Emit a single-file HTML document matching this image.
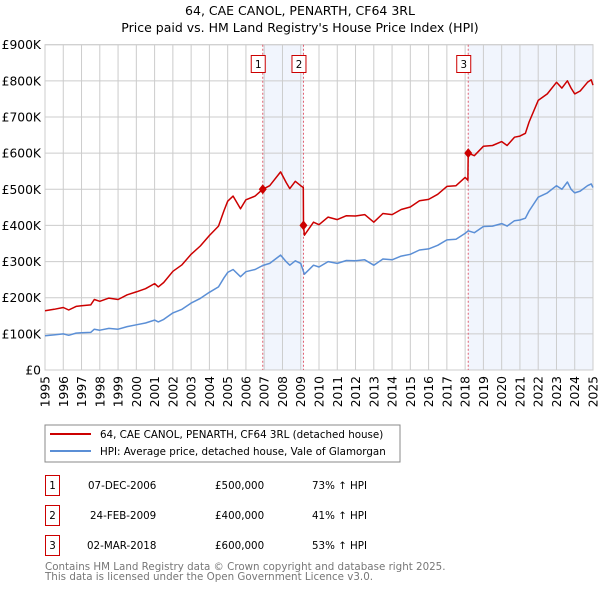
<!DOCTYPE html>
<html><head><meta charset="utf-8"><style>
body{margin:0;background:#fff;font-family:"DejaVu Sans","Liberation Sans",sans-serif;}
svg text{font-family:"DejaVu Sans","Liberation Sans",sans-serif;}
</style></head><body>
<svg id="c" width="600" height="590" xmlns="http://www.w3.org/2000/svg">
<text x="300" y="15" text-anchor="middle" font-size="12.5">64, CAE CANOL, PENARTH, CF64 3RL</text>
<text x="300" y="32" text-anchor="middle" font-size="12.5">Price paid vs. HM Land Registry's House Price Index (HPI)</text>
<g id="plot"></g>
<rect x="45" y="425" width="355" height="37" fill="#fff" stroke="#888"/>
<line x1="50" y1="434" x2="91" y2="434" stroke="#cc0000" stroke-width="2"/>
<text x="100" y="438" font-size="10.3">64, CAE CANOL, PENARTH, CF64 3RL (detached house)</text>
<line x1="50" y1="451" x2="91" y2="451" stroke="#5b8fd6" stroke-width="2"/>
<text x="100" y="455" font-size="10.3">HPI: Average price, detached house, Vale of Glamorgan</text>
<g font-size="10.3">
<rect x="45.5" y="475.5" width="14" height="20" fill="none" stroke="#cc0000"/><text x="52.5" y="489" text-anchor="middle">1</text>
<text x="88" y="489">07-DEC-2006</text><text x="215" y="489">£500,000</text><text x="312" y="489">73% ↑ HPI</text>
<rect x="45.5" y="505.5" width="14" height="20" fill="none" stroke="#cc0000"/><text x="52.5" y="519" text-anchor="middle">2</text>
<text x="90" y="519">24-FEB-2009</text><text x="215" y="519">£400,000</text><text x="312" y="519">41% ↑ HPI</text>
<rect x="45.5" y="535.5" width="14" height="20" fill="none" stroke="#cc0000"/><text x="52.5" y="549" text-anchor="middle">3</text>
<text x="87" y="549">02-MAR-2018</text><text x="215" y="549">£600,000</text><text x="312" y="549">53% ↑ HPI</text>
</g>
<text x="45" y="570" font-size="10.3" fill="#777">Contains HM Land Registry data © Crown copyright and database right 2025.</text>
<text x="45" y="580" font-size="10.3" fill="#777">This data is licensed under the Open Government Licence v3.0.</text>
</svg>
<script>
const hpiYears=[1995,1995.5,1996,1996.3,1996.7,1997,1997.5,1997.7,1998,1998.5,1999,1999.5,2000,2000.5,2001,2001.2,2001.5,2002,2002.5,2003,2003.5,2004,2004.5,2004.8,2005,2005.3,2005.7,2006,2006.5,2006.92,2007.3,2007.9,2008.2,2008.4,2008.7,2009,2009.2,2009.7,2010,2010.5,2011,2011.5,2012,2012.5,2013,2013.5,2014,2014.5,2015,2015.5,2016,2016.5,2017,2017.5,2018,2018.17,2018.5,2019,2019.5,2020,2020.3,2020.7,2021,2021.3,2021.5,2022,2022.5,2023,2023.3,2023.6,2023.8,2024,2024.3,2024.7,2024.9,2025];
const hpiValues=[95,97,100,96,102,103,104,113,110,115,113,120,125,130,138,133,140,158,168,185,198,215,230,255,270,278,258,272,278,289,295,318,300,290,302,295,265,290,285,300,295,303,302,305,290,307,305,315,320,332,335,345,360,362,378,385,380,397,398,405,398,413,415,420,440,478,490,510,500,520,500,490,495,510,515,505];
const redYears=[1995,1995.5,1996,1996.3,1996.7,1997,1997.5,1997.7,1998,1998.5,1999,1999.5,2000,2000.5,2001,2001.2,2001.5,2002,2002.5,2003,2003.5,2004,2004.5,2004.8,2005,2005.3,2005.7,2006,2006.5,2006.92,2007.3,2007.9,2008.2,2008.4,2008.7,2009,2009.14,2009.15,2009.2,2009.7,2010,2010.5,2011,2011.5,2012,2012.5,2013,2013.5,2014,2014.5,2015,2015.5,2016,2016.5,2017,2017.5,2018,2018.15,2018.17,2018.5,2019,2019.5,2020,2020.3,2020.7,2021,2021.3,2021.5,2022,2022.5,2023,2023.3,2023.6,2023.8,2024,2024.3,2024.7,2024.9,2025];
const redValues=[164,168,173,166,176,178,180,195,190,199,195,208,216,225,239,230,242,273,291,320,343,372,398,441,467,481,446,471,481,500,510,548,519,502,522,510,505,400,373,409,402,423,416,427,426,430,409,433,430,444,451,468,472,486,508,510,533,525,600,593,619,621,632,621,644,647,655,686,746,764,796,780,800,780,764,772,796,803,788];
const saleYears=[2006.92,2009.15,2018.17];
const saleValues=[500,400,600];
const saleLabels=["1","2","3"];
const yTicks=[0,100,200,300,400,500,600,700,800,900];
const yTickLabels=["£0","£100K","£200K","£300K","£400K","£500K","£600K","£700K","£800K","£900K"];
const xTicks=[1995,1996,1997,1998,1999,2000,2001,2002,2003,2004,2005,2006,2007,2008,2009,2010,2011,2012,2013,2014,2015,2016,2017,2018,2019,2020,2021,2022,2023,2024,2025];

const NS="http://www.w3.org/2000/svg";
const L=45,R=593,T=44.7,B=370;
const xs=y=>L+(y-1995)/30*(R-L);
const ys=v=>B-v/900*(B-T);
const g=document.getElementById('plot');
function mk(t,a,p){const e=document.createElementNS(NS,t);for(const k in a)e.setAttribute(k,a[k]);(p||g).appendChild(e);return e;}
let s1=mk('rect',{x:xs(saleYears[0]),y:T,width:xs(saleYears[1])-xs(saleYears[0]),height:B-T,fill:'#eef3fc',opacity:0.8});


let s2=mk('rect',{x:xs(saleYears[2]),y:T,width:R-xs(saleYears[2]),height:B-T,fill:'#eef3fc',opacity:0.8});


yTicks.forEach((v,i)=>{
 let l=mk('line',{x1:L,x2:R,y1:ys(v),y2:ys(v),stroke:'#ccc','stroke-width':1});
 
 
 let t=mk('text',{x:L-4,y:ys(v)+4.5,'text-anchor':'end','font-size':12.3});
 
 
 t.textContent=yTickLabels[i];
});
xTicks.forEach(y=>{
 let l=mk('line',{x1:xs(y),x2:xs(y),y1:T,y2:B,stroke:'#ccc','stroke-width':1});
 
 
 let t=mk('text',{x:0,y:0,'text-anchor':'end','font-size':12.3,transform:`translate(${xs(y)+4.5},${B+6}) rotate(-90)`});
 
 
 t.textContent=y;
});
let fr=mk('rect',{x:L,y:T,width:R-L,height:B-T,fill:'none',stroke:'#ccc'});


saleYears.forEach((y,i)=>{
 let l=mk('line',{x1:xs(y),x2:xs(y),y1:T,y2:B,stroke:'#e06070','stroke-width':1,'stroke-dasharray':'2,2'});
 
 
 let bx=mk('rect',{x:xs(y)-11.5,y:55.5,width:14,height:17,fill:'#fff',stroke:'#cc0000'});
 
 
 let t=mk('text',{x:xs(y)-4.5,y:68,'text-anchor':'middle','font-size':10.3});
 
 
 t.textContent=saleLabels[i];
});
function path(xa,va,col,name){
 let d=xa.map((y,i)=>(i?'L':'M')+xs(y).toFixed(1)+','+ys(va[i]).toFixed(1)).join('');
 let p=mk('path',{d:d,fill:'none',stroke:col,'stroke-width':1.5,'stroke-linejoin':'round'});
 
 
}
path(hpiYears,hpiValues,'#5b8fd6','hpi-line');
path(redYears,redValues,'#cc0000','property-price-line');
saleYears.forEach((y,i)=>{
 let c=mk('path',{d:`M${xs(y)},${ys(saleValues[i])-5}l4,5l-4,5l-4,-5z`,fill:'#cc0000'});
 
 
});
</script>
</body></html>
